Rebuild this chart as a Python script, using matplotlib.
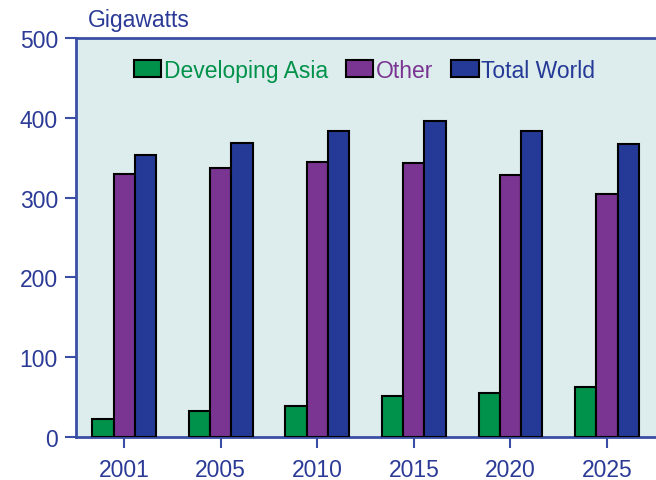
import matplotlib
matplotlib.use("Agg")
import matplotlib.pyplot as plt
import numpy as np
from matplotlib.patches import Patch

years = ["2001", "2005", "2010", "2015", "2020", "2025"]
developing_asia = [23, 33, 39, 52, 55, 63]
other = [330, 337, 344, 343, 328, 305]
total_world = [354, 369, 383, 396, 383, 367]
series_names = ["Developing Asia", "Other", "Total World"]
colors = ["#00924a", "#7a3592", "#253a97"]
yticks = [0, 100, 200, 300, 400, 500]

plt.rcParams['font.family'] = ['Liberation Sans', 'DejaVu Sans']
axcol = "#3a4ea6"
txtcol = "#2b3a96"

fig = plt.figure(figsize=(6.56, 4.81), dpi=100)
W, H = 656, 481
left, right, top, bottom = 76, 660, 39, 438
ax = fig.add_axes([left / W, 1 - bottom / H, (right - left) / W, (bottom - top) / H])
ax.set_facecolor("#ddecec")

x = np.arange(len(years))
w = 0.22
for i, (vals, c) in enumerate(zip([developing_asia, other, total_world], colors)):
    ax.bar(x + (i - 1) * w, vals, w, color=c, edgecolor="black", linewidth=1.5, zorder=3)

ax.set_ylim(0, 500)
ax.set_xlim(-0.5, 5.55)
ax.set_yticks(yticks)
ax.set_xticks(x)
ax.set_xticklabels(years)
ax.tick_params(axis='both', colors=axcol, labelcolor=txtcol, labelsize=16.5, width=1.5, length=8, direction='out')
ax.tick_params(axis='x', pad=7)
ax.tick_params(axis='y', pad=5)
for s in ["left", "bottom", "top"]:
    ax.spines[s].set_color(axcol)
    ax.spines[s].set_linewidth(2)
ax.spines["right"].set_visible(False)

fig.text(88 / W, 1 - 21 / H, "Gigawatts", fontsize=16.5, color=txtcol, va="center", ha="left")

handles = [Patch(facecolor=c, edgecolor="black", linewidth=1.5) for c in colors]
leg = ax.legend(handles, series_names, loc="upper center", bbox_to_anchor=(0.494, 1.0), ncol=3,
                frameon=False, fontsize=16.5, handlelength=1.2, handleheight=0.8, handletextpad=0.1,
                columnspacing=0.8)
for t, c in zip(leg.get_texts(), colors):
    t.set_color(c)

fig.savefig("out.png", dpi=100)
